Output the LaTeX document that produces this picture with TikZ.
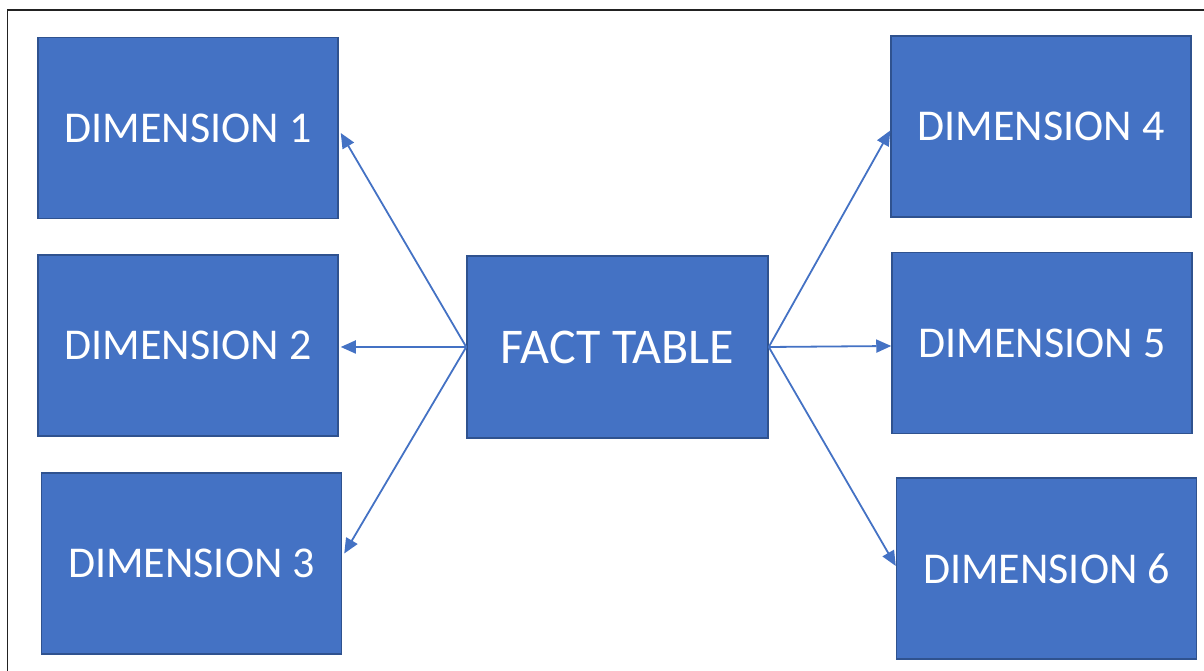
\documentclass[tikz,border=0pt]{standalone}
\usepackage{fontspec}
\setmainfont{Carlito}
\usetikzlibrary{arrows.meta}
\definecolor{boxfill}{HTML}{4472C4}
\definecolor{boxline}{HTML}{2F528F}
\definecolor{frameline}{HTML}{222222}
\begin{document}
\begin{tikzpicture}[x=1pt,y=1pt,
  dimbox/.style={draw=boxline, fill=boxfill, line width=1.5pt, text=white,
    minimum width=300pt, minimum height=181pt, inner sep=0pt,
    font=\fontsize{44}{50}\selectfont},
  link/.style={draw=boxfill, line width=1.8pt, -{Triangle[length=15pt,width=13pt]}}]
\useasboundingbox (0,0) rectangle (1204,671);
\draw[frameline, line width=1.5pt] (7.5,0) -- (7.5,661) -- (1204,661);
\node[dimbox] (d1) at (188,543) {DIMENSION 1};
\node[dimbox] (d2) at (188,325.5) {DIMENSION 2};
\node[dimbox] (d3) at (191.5,107.5) {DIMENSION 3};
\node[dimbox, minimum width=301pt, minimum height=182pt,
  font=\fontsize{50}{56}\selectfont] (f) at (617.5,324) {FACT TABLE};
\node[dimbox] (d4) at (1041,544.5) {DIMENSION 4};
\node[dimbox] (d5) at (1042,328) {DIMENSION 5};
\node[dimbox] (d6) at (1046.5,102.5) {DIMENSION 6};
\draw[link] (f.west) -- ([yshift=-5pt,xshift=2pt]d1.east);
\draw[link] (f.west) -- ([yshift=-1.5pt,xshift=2pt]d2.east);
\draw[link] (f.west) -- ([yshift=10pt,xshift=2pt]d3.east);
\draw[link] (f.east) -- ([yshift=-4pt]d4.west);
\draw[link] (f.east) -- ([yshift=-3pt]d5.west);
\draw[link] (f.east) -- ([yshift=2.5pt]d6.west);
\end{tikzpicture}
\end{document}
